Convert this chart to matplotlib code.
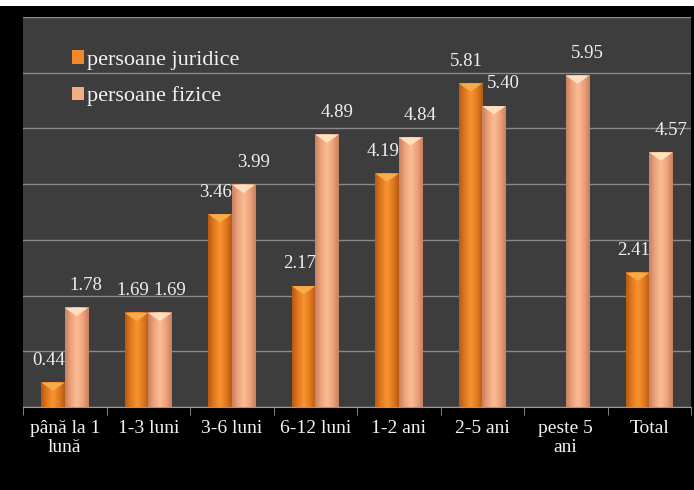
import numpy as np
import matplotlib
matplotlib.use("Agg")
import matplotlib.pyplot as plt
from matplotlib.colors import LinearSegmentedColormap
from matplotlib.patches import Polygon, Rectangle

categories = ["până la 1\nlună", "1-3 luni", "3-6 luni", "6-12 luni",
              "1-2 ani", "2-5 ani", "peste 5\nani", "Total"]
juridice = [0.44, 1.69, 3.46, 2.17, 4.19, 5.81, np.nan, 2.41]
fizice = [1.78, 1.69, 3.99, 4.89, 4.84, 5.40, 5.95, 4.57]
series_names = ["persoane juridice", "persoane fizice"]

serif = ["Liberation Serif", "DejaVu Serif"]
bg = "#3d3d3d"

orange_cmap = LinearSegmentedColormap.from_list(
    "or", ["#b85a14", "#e37a20", "#f8952f", "#e37a20", "#b85a14"])
peach_cmap = LinearSegmentedColormap.from_list(
    "pe", ["#c98060", "#eea37c", "#fbbc94", "#eea37c", "#c98060"])

fig = plt.figure(figsize=(6.94, 4.90), dpi=100, facecolor="white")
fig.patches.append(Rectangle((0, 0), 1, 484 / 490, transform=fig.transFigure,
                             facecolor="black", edgecolor="none", zorder=-10))
ax = fig.add_axes([23 / 694, 83 / 490, 668 / 694, 390 / 490])
ax.set_zorder(1)
ax.set_facecolor(bg)

x = np.arange(len(categories))
w = 0.28
grad = np.linspace(0, 1, 64).reshape(1, -1)


def fancy_bars(xpos, vals, cmap, top_color, label_dx):
    bars = ax.bar(xpos, np.nan_to_num(vals), w, color="none", zorder=2)
    for b, v in zip(bars, vals):
        if np.isnan(v):
            continue
        x0, x1 = b.get_x(), b.get_x() + b.get_width()
        h = b.get_height()
        ax.imshow(grad, cmap=cmap, extent=[x0, x1, 0, h], aspect="auto",
                  zorder=2, interpolation="bicubic")
        d = 0.15
        ax.add_patch(Polygon([(x0, h), (x1, h), ((x0 + x1) / 2, h - d)],
                             closed=True, facecolor=top_color,
                             edgecolor="none", zorder=3))
        ax.annotate(f"{v:.2f}", ((x0 + x1) / 2, h),
                    xytext=(label_dx, 16), textcoords="offset points",
                    ha="center", va="center", color="#eeeeee",
                    fontsize=13.5, family=serif)
    return bars


fancy_bars(x - w / 2, juridice, orange_cmap, "#f8ab4c", -3)
fancy_bars(x + w / 2, fizice, peach_cmap, "#ffe0c0", 7)

ax.set_xlim(-0.5, len(categories) - 0.5)
ax.set_ylim(0, 7)
ax.set_yticks(np.arange(0, 8))
ax.yaxis.grid(True, color="#8a8a8a", linewidth=1.0)
ax.set_axisbelow(True)
ax.tick_params(axis="y", left=False, labelleft=False)

ax.set_xticks(x)
ax.set_xticklabels(categories, fontsize=14, family=serif, color="#f2f2f2",
                   linespacing=1.2)
ax.set_xticks(np.arange(-0.5, len(categories)), minor=True)
ax.tick_params(axis="x", which="major", length=0, pad=9)
ax.tick_params(axis="x", which="minor", length=6, color="#9a9a9a",
               direction="out")

for s in ["top", "left", "right"]:
    ax.spines[s].set_visible(False)
ax.spines["bottom"].set_color("#9a9a9a")

handles = [Rectangle((0, 0), 1, 1, facecolor="#f08a28"),
           Rectangle((0, 0), 1, 1, facecolor="#f4ad85")]
leg = ax.legend(handles, series_names, loc="upper left",
                bbox_to_anchor=(0.043, 0.966), frameon=False,
                prop={"family": serif, "size": 16}, labelcolor="#f2f2f2",
                handlelength=0.55, handleheight=0.55, handletextpad=0.15,
                labelspacing=0.74)

fig.savefig("out.png", dpi=100, facecolor=fig.get_facecolor())
